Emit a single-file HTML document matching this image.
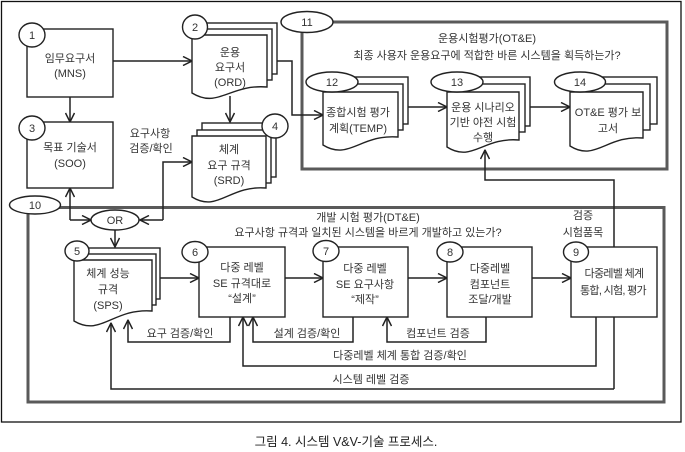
<!DOCTYPE html>
<html><head><meta charset="utf-8"><style>
html,body{margin:0;padding:0;background:#fff;}
svg{display:block;}
text{font-family:"Liberation Sans","Noto Sans CJK KR",sans-serif;font-size:11px;fill:#333;text-anchor:middle;letter-spacing:0px;}
.ln{fill:none;stroke:#222;stroke-width:1.5;}
.sh{fill:#fff;stroke:#222;stroke-width:1.4;}
.fr{fill:none;stroke:#5a5a5a;stroke-width:3;}
.tight{letter-spacing:-0.7px;}
</style></head><body>
<svg width="685" height="452" viewBox="0 0 685 452" xmlns="http://www.w3.org/2000/svg">
<defs>
<marker id="a" viewBox="0 0 10 10" refX="9.5" refY="5" markerWidth="10" markerHeight="10" markerUnits="userSpaceOnUse" orient="auto">
<path d="M0.5,0.5 L9.5,5 L0.5,9.5" fill="none" stroke="#222" stroke-width="1.5"/>
</marker>
</defs>
<rect x="0" y="0" width="685" height="452" fill="#fff"/>
<!-- outer frame -->
<rect x="1.5" y="1.5" width="679.5" height="420.5" fill="none" stroke="#111" stroke-width="1.3"/>
<!-- frames -->
<rect class="fr" x="302" y="22" width="365" height="147"/>
<rect class="fr" x="28" y="207.5" width="636" height="194.5"/>

<!-- connectors -->
<path class="ln" d="M113,61 H192" marker-end="url(#a)"/>
<path class="ln" d="M70,97 V122" marker-end="url(#a)"/>
<path class="ln" d="M277,61 H292 V115 H323" marker-end="url(#a)"/>
<path class="ln" d="M230,96 V122" marker-end="url(#a)"/>
<path class="ln" d="M70,220 V188" marker-end="url(#a)"/>
<path class="ln" d="M70,220 H91" marker-end="url(#a)"/>
<path class="ln" d="M163,220 V162 H192" marker-end="url(#a)"/>
<path class="ln" d="M163,220 H140" marker-end="url(#a)"/>
<path class="ln" d="M115,230 V247" marker-end="url(#a)"/>
<path class="ln" d="M160,278 H199" marker-end="url(#a)"/>
<path class="ln" d="M285,278 H323" marker-end="url(#a)"/>
<path class="ln" d="M408,278 H447" marker-end="url(#a)"/>
<path class="ln" d="M532,278 H571" marker-end="url(#a)"/>
<path class="ln" d="M230,317 V342 H128 V320" marker-end="url(#a)"/>
<path class="ln" d="M353,317 V342 H253 V317" marker-end="url(#a)"/>
<path class="ln" d="M486,317 V342 H387 V317" marker-end="url(#a)"/>
<path class="ln" d="M596,317 V366 H243 V317" marker-end="url(#a)"/>
<path class="ln" d="M614,389 H111 V323" marker-end="url(#a)"/>
<path class="ln" d="M614,389 V180 H485 V150" marker-end="url(#a)"/>
<path class="ln" d="M408,107 H447" marker-end="url(#a)"/>
<path class="ln" d="M530,107 H570" marker-end="url(#a)"/>

<!-- boxes -->
<rect class="sh" x="27" y="29" width="86" height="68"/>
<rect class="sh" x="27" y="122" width="86" height="66"/>
<rect class="sh" x="199" y="247" width="86" height="70"/>
<rect class="sh" x="323" y="247" width="85" height="70"/>
<rect class="sh" x="447" y="247" width="85" height="70"/>
<rect class="sh" x="571" y="247" width="86" height="70"/>

<!-- ORD stack -->
<rect class="sh" x="202" y="23" width="75" height="51"/>
<rect class="sh" x="197" y="29" width="75" height="51"/>
<path class="sh" d="M192,35 H267 V87 C229.5,84 218,109 192,93 Z"/>
<!-- SRD stack -->
<rect class="sh" x="202" y="123" width="74" height="54"/>
<rect class="sh" x="197" y="130" width="74" height="53"/>
<path class="sh" d="M192,136 H266 V188 C229,185 218,213 192,197 Z"/>
<!-- SPS stack -->
<rect class="sh" x="82" y="248" width="78" height="51"/>
<rect class="sh" x="78" y="254" width="78" height="51"/>
<path class="sh" d="M74,260 H152 V311 C113,308 101,337 74,321 Z"/>
<!-- 12 stack -->
<rect class="sh" x="333" y="77" width="75" height="47"/>
<rect class="sh" x="328" y="84" width="75" height="46"/>
<path class="sh" d="M323,92 H398 V137 C360.5,134 349,161 323,145 Z"/>
<!-- 13 stack -->
<rect class="sh" x="457" y="77" width="73" height="49"/>
<rect class="sh" x="452" y="84" width="73" height="48"/>
<path class="sh" d="M447,92 H519 V140 C483,137 472,163 447,147 Z"/>
<!-- 14 stack -->
<rect class="sh" x="580" y="77" width="77" height="47"/>
<rect class="sh" x="575" y="84" width="75" height="46"/>
<path class="sh" d="M570,92 H643 V138 C606.5,135 595.5,162 570,146 Z"/>

<!-- circles / ellipses -->
<ellipse class="sh" cx="32" cy="35" rx="13" ry="12"/>
<ellipse class="sh" cx="32" cy="128" rx="13" ry="12"/>
<ellipse class="sh" cx="195" cy="27" rx="12.5" ry="12"/>
<ellipse class="sh" cx="275" cy="126" rx="13" ry="12"/>
<ellipse class="sh" cx="77" cy="251" rx="12" ry="10"/>
<ellipse class="sh" cx="195" cy="252" rx="13" ry="10.5"/>
<ellipse class="sh" cx="326" cy="251" rx="13" ry="10.5"/>
<ellipse class="sh" cx="450" cy="252" rx="13" ry="10"/>
<ellipse class="sh" cx="576" cy="252" rx="12.5" ry="10"/>
<ellipse class="sh" cx="35" cy="205" rx="25.5" ry="9"/>
<ellipse class="sh" cx="307" cy="22" rx="26" ry="10.5"/>
<ellipse class="sh" cx="332" cy="82" rx="26" ry="10"/>
<ellipse class="sh" cx="457" cy="82" rx="26" ry="10"/>
<ellipse class="sh" cx="580" cy="82" rx="25.5" ry="10"/>
<ellipse class="sh" cx="115" cy="220" rx="24" ry="10"/>

<!-- numbers -->
<text x="32" y="39">1</text>
<text x="32" y="132">3</text>
<text x="195" y="31">2</text>
<text x="275" y="130">4</text>
<text x="77" y="255">5</text>
<text x="195" y="256">6</text>
<text x="326" y="255">7</text>
<text x="450" y="256">8</text>
<text x="576" y="256">9</text>
<text x="35" y="209">10</text>
<text x="307" y="26">11</text>
<text x="332" y="86">12</text>
<text x="457" y="86">13</text>
<text x="580" y="86">14</text>
<text x="115" y="224">OR</text>

<!-- labels -->
<text x="70" y="62">임무요구서</text>
<text x="70" y="77">(MNS)</text>
<text x="70" y="151">목표 기술서</text>
<text x="70" y="167">(SOO)</text>
<text x="230" y="56">운용</text>
<text x="230" y="71">요구서</text>
<text x="230" y="86">(ORD)</text>
<text x="150" y="137">요구사항</text>
<text x="151" y="152">검증/확인</text>
<text x="229" y="153">체계</text>
<text x="229" y="169">요구 규격</text>
<text x="229" y="184">(SRD)</text>

<text x="487" y="42">운용시험평가(OT&amp;E)</text>
<text x="487" y="59">최종 사용자 운용요구에 적합한 바른 시스템을 획득하는가?</text>
<text x="358" y="116">종합시험 평가</text>
<text x="358" y="132">계획(TEMP)</text>
<text x="483" y="111">운용 시나리오</text>
<text x="483" y="126">기반 야전 시험</text>
<text x="483" y="141">수행</text>
<text x="608" y="116">OT&amp;E 평가 보</text>
<text x="608" y="132">고서</text>

<text x="368" y="221">개발 시험 평가(DT&amp;E)</text>
<text x="368" y="236">요구사항 규격과 일치된 시스템을 바르게 개발하고 있는가?</text>
<text x="583" y="219">검증</text>
<text x="583" y="236">시험품목</text>

<text x="108" y="277">체계 성능</text>
<text x="108" y="293">규격</text>
<text x="108" y="309">(SPS)</text>
<text x="242" y="271">다중 레벨</text>
<text x="242" y="287">SE 규격대로</text>
<text x="242" y="302">“설계”</text>
<text x="365" y="272">다중 레벨</text>
<text x="365" y="288">SE 요구사항</text>
<text x="365" y="303">“제작”</text>
<text x="490" y="272">다중레벨</text>
<text x="490" y="288">컴포넌트</text>
<text x="490" y="303">조달/개발</text>
<text class="tight" x="614" y="277">다중레벨 체계</text>
<text class="tight" x="613" y="294">통합, 시험, 평가</text>

<text x="180" y="337">요구 검증/확인</text>
<text x="307" y="337">설계 검증/확인</text>
<text x="438" y="337">컴포넌트 검증</text>
<text x="400" y="359">다중레벨 체계 통합 검증/확인</text>
<text x="371" y="383">시스템 레벨 검증</text>

<text x="346" y="446" style="font-size:12.5px;fill:#222;letter-spacing:0px;">그림 4. 시스템 V&amp;V-기술 프로세스.</text>
</svg>
</body></html>
